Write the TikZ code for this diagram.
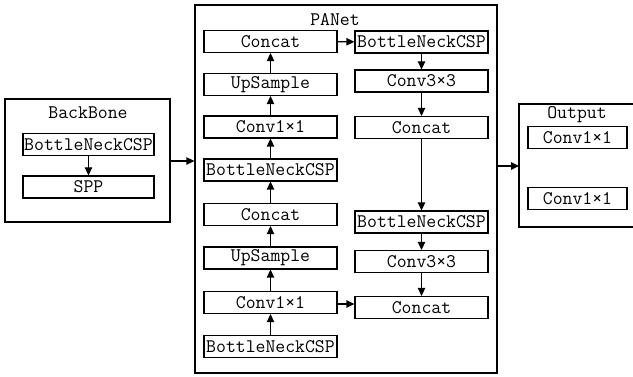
\documentclass[tikz,border=0pt]{standalone}
\usetikzlibrary{arrows.meta}
\begin{document}
\begin{tikzpicture}[x=1pt,y=-1pt,
  txt/.style={font=\ttfamily\fontsize{19.2}{21}\selectfont},
  blk/.style={draw,line width=1.3pt,minimum width=133pt,minimum height=22pt,inner sep=0pt,txt},
  sblk/.style={blk,minimum width=99pt},
  frame/.style={draw,line width=1.3pt,minimum width=#1,inner sep=0pt},
  arr/.style={line width=1.3pt,-{Triangle[length=8pt,width=7.5pt]}},
  ttl/.style={txt,inner sep=0pt}]
\useasboundingbox (0,0) rectangle (633,377);
% containers
\node[frame=165pt,minimum height=123pt] (bbox) at (87.5,160.5) {};
\node[frame=302pt,minimum height=368pt] (pbox) at (346,189) {};
\draw[line width=1.3pt] (640,104) -- (519,104) -- (519,227) -- (640,227);
\coordinate (oin) at (519,166);
% titles
\node[ttl] (tbb) at (88,113) {BackBone};
\node[ttl] (tpa) at (335,20) {PANet};
\node[ttl] (tou) at (577,115) {Output};
% backbone
\node[blk,minimum width=131pt] (bb) at (88.5,144.5) {BottleNeckCSP};
\node[blk,minimum width=131pt] (spp) at (88.5,187) {SPP};
% left column
\node[blk] (lc1) at (270.5,41.5) {Concat};
\node[blk] (lu1) at (270.5,84.5) {UpSample};
\node[blk] (lv1) at (270.5,127) {Conv1×1};
\node[blk] (lb1) at (270.5,170) {BottleNeckCSP};
\node[blk] (lc2) at (270.5,214.5) {Concat};
\node[blk] (lu2) at (270.5,258) {UpSample};
\node[blk] (lv2) at (270.5,302.5) {Conv1×1};
\node[blk] (lb2) at (270.5,346.5) {BottleNeckCSP};
% right column
\node[blk] (rb1) at (421.5,42) {BottleNeckCSP};
\node[blk] (rv1) at (421.5,81) {Conv3×3};
\node[blk] (rc1) at (421.5,127.5) {Concat};
\node[blk] (rb2) at (421.5,222) {BottleNeckCSP};
\node[blk] (rv2) at (421.5,261.5) {Conv3×3};
\node[blk] (rc2) at (421.5,307.5) {Concat};
% output
\node[sblk] (o1) at (577.5,137.5) {Conv1×1};
\node[sblk] (o2) at (577.5,198.5) {Conv1×1};
% arrows
\draw[arr] (bb) -- (spp);
\draw[arr] (bbox.east |- 0,161) -- (pbox.west |- 0,161);
\draw[arr] (pbox.east |- oin) -- (oin);
\draw[arr] (lb2) -- (lv2);
\draw[arr] (lv2) -- (lu2);
\draw[arr] (lu2) -- (lc2);
\draw[arr] (lc2) -- (lb1);
\draw[arr] (lb1) -- (lv1);
\draw[arr] (lv1) -- (lu1);
\draw[arr] (lu1) -- (lc1);
\draw[arr] (lc1) -- (rb1);
\draw[arr] (rb1) -- (rv1);
\draw[arr] (rv1) -- (rc1);
\draw[arr] (rc1) -- (rb2);
\draw[arr] (rb2) -- (rv2);
\draw[arr] (rv2) -- (rc2);
\draw[arr] (lv2.east |- 0,304) -- (rc2.west |- 0,304);
\end{tikzpicture}
\end{document}
